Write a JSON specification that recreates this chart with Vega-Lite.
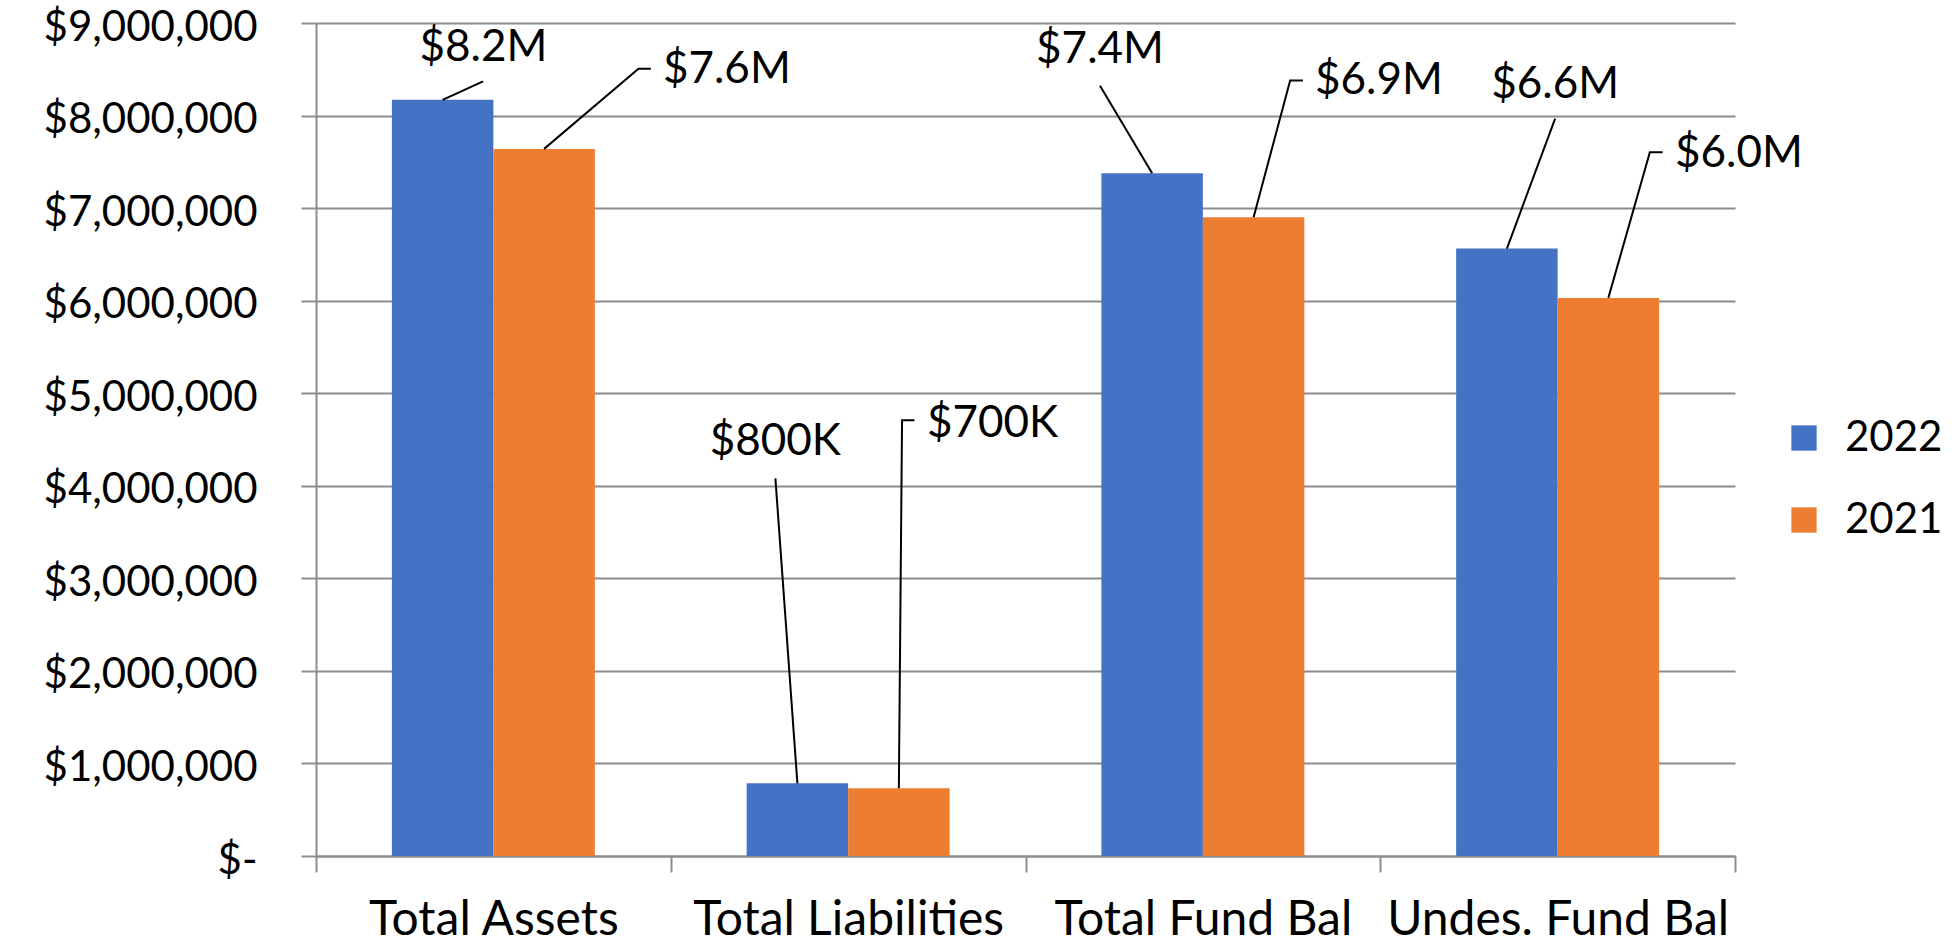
{
  "$schema": "https://vega.github.io/schema/vega-lite/v6.json",
  "width": 1419,
  "height": 833,
  "autosize": "none",
  "padding": {"left": 316, "top": 23, "right": 224, "bottom": 91},
  "background": "white",
  "config": {
    "view": {"stroke": null},
    "font": "Lato",
    "axis": {"labelFont": "Lato", "labelColor": "black", "labelLimit": 0},
    "legend": {"labelFont": "Lato", "labelLimit": 0}
  },
  "datasets": {
    "bars": [
      {"category": "Total Assets", "year": "2022", "value": 8170000},
      {"category": "Total Assets", "year": "2021", "value": 7640000},
      {"category": "Total Liabilities", "year": "2022", "value": 785000},
      {"category": "Total Liabilities", "year": "2021", "value": 731000},
      {"category": "Total Fund Bal", "year": "2022", "value": 7376000},
      {"category": "Total Fund Bal", "year": "2021", "value": 6900000},
      {"category": "Undes. Fund Bal", "year": "2022", "value": 6563000},
      {"category": "Undes. Fund Bal", "year": "2021", "value": 6030000}
    ],
    "leaders": [
      {"label": "$8.2M", "seq": 1, "pos": 0.357, "value": 8170000},
      {"label": "$8.2M", "seq": 2, "pos": 0.471, "value": 8370000},
      {"label": "$7.6M", "seq": 1, "pos": 0.643, "value": 7640000},
      {"label": "$7.6M", "seq": 2, "pos": 0.909, "value": 8507000},
      {"label": "$7.6M", "seq": 3, "pos": 0.944, "value": 8507000},
      {"label": "$800K", "seq": 1, "pos": 1.357, "value": 785000},
      {"label": "$800K", "seq": 2, "pos": 1.295, "value": 4080000},
      {"label": "$700K", "seq": 1, "pos": 1.643, "value": 731000},
      {"label": "$700K", "seq": 2, "pos": 1.652, "value": 4708000},
      {"label": "$700K", "seq": 3, "pos": 1.687, "value": 4708000},
      {"label": "$7.4M", "seq": 1, "pos": 2.357, "value": 7376000},
      {"label": "$7.4M", "seq": 2, "pos": 2.210, "value": 8323000},
      {"label": "$6.9M", "seq": 1, "pos": 2.643, "value": 6900000},
      {"label": "$6.9M", "seq": 2, "pos": 2.746, "value": 8380000},
      {"label": "$6.9M", "seq": 3, "pos": 2.782, "value": 8380000},
      {"label": "$6.6M", "seq": 1, "pos": 3.357, "value": 6563000},
      {"label": "$6.6M", "seq": 2, "pos": 3.493, "value": 7967000},
      {"label": "$6.0M", "seq": 1, "pos": 3.643, "value": 6030000},
      {"label": "$6.0M", "seq": 2, "pos": 3.760, "value": 7603000},
      {"label": "$6.0M", "seq": 3, "pos": 3.796, "value": 7603000}
    ],
    "labelsAbove": [
      {"label": "$8.2M", "pos": 0.472, "value": 8730000},
      {"label": "$800K", "pos": 1.295, "value": 4470000},
      {"label": "$7.4M", "pos": 2.210, "value": 8710000},
      {"label": "$6.6M", "pos": 3.493, "value": 8330000}
    ],
    "labelsBeside": [
      {"label": "$7.6M", "pos": 0.978, "value": 8490000},
      {"label": "$700K", "pos": 1.722, "value": 4670000},
      {"label": "$6.9M", "pos": 2.816, "value": 8370000},
      {"label": "$6.0M", "pos": 3.831, "value": 7590000}
    ]
  },
  "layer": [
    {
      "data": {"name": "bars"},
      "mark": {"type": "bar"},
      "encoding": {
        "x": {
          "field": "category",
          "type": "nominal",
          "sort": ["Total Assets", "Total Liabilities", "Total Fund Bal", "Undes. Fund Bal"],
          "scale": {"paddingInner": 0, "paddingOuter": 0},
          "axis": {
            "title": null,
            "labelAngle": 0,
            "labelFontSize": 48,
            "labelPadding": 24,
            "tickBand": "extent",
            "tickSize": 16,
            "tickWidth": 2,
            "tickColor": "#8c8c8c",
            "domainColor": "#8c8c8c",
            "domainWidth": 2,
            "grid": false
          }
        },
        "xOffset": {
          "field": "year",
          "type": "nominal",
          "sort": ["2022", "2021"],
          "scale": {"paddingInner": 0, "paddingOuter": 0.748}
        },
        "y": {
          "field": "value",
          "type": "quantitative",
          "scale": {"domain": [0, 9000000], "nice": false},
          "axis": {
            "title": null,
            "values": [0, 1000000, 2000000, 3000000, 4000000, 5000000, 6000000, 7000000, 8000000, 9000000],
            "labelExpr": "datum.value == 0 ? '$-' : '$' + format(datum.value, ',')",
            "labelFontSize": 42,
            "labelPadding": 44,
            "labelOffset": 4,
            "tickSize": 15,
            "tickWidth": 2,
            "tickColor": "#8c8c8c",
            "domainColor": "#8c8c8c",
            "domainWidth": 2,
            "grid": true,
            "gridColor": "#8c8c8c",
            "gridWidth": 2
          }
        },
        "color": {
          "field": "year",
          "type": "nominal",
          "sort": ["2022", "2021"],
          "scale": {"domain": ["2022", "2021"], "range": ["#4472C4", "#ED7D31"]},
          "legend": {
            "title": null,
            "orient": "none",
            "legendX": 1467,
            "legendY": 394,
            "symbolType": "square",
            "symbolSize": 640,
            "symbolStrokeWidth": 0,
            "labelFontSize": 42,
            "labelOffset": 20,
            "rowPadding": 40,
            "labelColor": "black"
          }
        }
      }
    },
    {
      "data": {"name": "leaders"},
      "mark": {"type": "line", "color": "black", "strokeWidth": 2},
      "encoding": {
        "x": {"field": "pos", "type": "quantitative", "scale": {"domain": [0, 4], "nice": false, "zero": false}, "axis": null},
        "y": {"field": "value", "type": "quantitative", "scale": {"domain": [0, 9000000], "nice": false}},
        "detail": {"field": "label"},
        "order": {"field": "seq", "type": "quantitative"}
      }
    },
    {
      "data": {"name": "labelsAbove"},
      "mark": {"type": "text", "align": "center", "baseline": "middle", "fontSize": 44, "font": "Lato", "color": "black"},
      "encoding": {
        "x": {"field": "pos", "type": "quantitative", "scale": {"domain": [0, 4], "nice": false, "zero": false}, "axis": null},
        "y": {"field": "value", "type": "quantitative", "scale": {"domain": [0, 9000000], "nice": false}},
        "text": {"field": "label"}
      }
    },
    {
      "data": {"name": "labelsBeside"},
      "mark": {"type": "text", "align": "left", "baseline": "middle", "fontSize": 44, "font": "Lato", "color": "black"},
      "encoding": {
        "x": {"field": "pos", "type": "quantitative", "scale": {"domain": [0, 4], "nice": false, "zero": false}, "axis": null},
        "y": {"field": "value", "type": "quantitative", "scale": {"domain": [0, 9000000], "nice": false}},
        "text": {"field": "label"}
      }
    }
  ],
  "resolve": {"scale": {"x": "independent"}}
}
